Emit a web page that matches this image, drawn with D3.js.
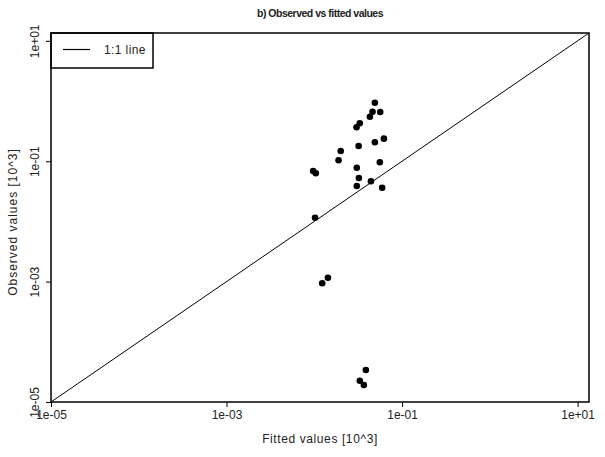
<!DOCTYPE html>
<html><head><meta charset="utf-8">
<script src="https://cdn.jsdelivr.net/npm/d3@7"></script>
<style>body{margin:0;background:#fff}svg{display:block}text{font-family:"Liberation Sans",Arial,sans-serif;fill:#222}</style>
</head><body>
<script>
const fitted = [0.0490,0.0461,0.0564,0.0430,0.0330,0.0303,0.0320,0.0621,0.0490,0.0200,0.0189,0.0558,0.0097,0.0104,0.0305,0.0322,0.0442,0.0305,0.0593,0.0102,0.0143,0.0123,0.0387,0.0330,0.0367];
const observed = [0.937,0.664,0.656,0.548,0.427,0.366,0.179,0.237,0.206,0.148,0.1035,0.096,0.0687,0.0630,0.078,0.0526,0.0464,0.0387,0.0363,0.0115,0.00116,0.00094,3.40e-5,2.26e-5,1.91e-5];
const tickValues = [1e-5,1e-3,1e-1,1e1];
const tickLabels = ["1e-05","1e-03","1e-01","1e+01"];
const title = "b) Observed vs fitted values";
const xLabel = "Fitted values [10^3]";
const yLabel = "Observed values [10^3]";
const legendLabel = "1:1 line";

const W=605,H=457, L=51,R=589,T=33,B=402;
const dom=[1e-5, Math.pow(10,1.13)];
const x=d3.scaleLog().domain(dom).range([L,R]);
const y=d3.scaleLog().domain(dom).range([B,T]);
const svg=d3.select("body").append("svg").attr("width",W).attr("height",H);

// 1:1 line
svg.append("line").attr("x1",x(dom[0])).attr("y1",y(dom[0])).attr("x2",x(dom[1])).attr("y2",y(dom[1]))
  .attr("stroke","#000").attr("stroke-width",1);

// points
svg.append("g").selectAll("circle").data(fitted.map((f,i)=>[f,observed[i]])).join("circle")
  .attr("cx",d=>x(d[0])).attr("cy",d=>y(d[1])).attr("r",3.3).attr("fill","#000");

// axes
const fmt=d=>tickLabels[tickValues.indexOf(d)];
const xa=svg.append("g").attr("transform",`translate(0,${B})`)
  .call(d3.axisBottom(x).tickValues(tickValues).tickFormat(fmt).tickSize(5).tickPadding(3));
xa.select(".domain").remove();
xa.selectAll("line").attr("stroke","#000");
xa.selectAll("text").attr("font-size",12).style("fill","#222");
const ya=svg.append("g").attr("transform",`translate(${L},0)`)
  .call(d3.axisLeft(y).tickValues(tickValues).tickFormat(fmt).tickSize(5));
ya.select(".domain").remove();
ya.selectAll("line").attr("stroke","#000");
ya.selectAll("text").attr("font-size",12).style("fill","#222")
  .attr("x",0).attr("dy",0).attr("text-anchor","middle")
  .attr("transform","translate(-12,0) rotate(-90)");

// box
svg.append("rect").attr("x",L).attr("y",T).attr("width",R-L).attr("height",B-T)
  .attr("fill","none").attr("stroke","#000").attr("stroke-width",1.5);

// legend
svg.append("rect").attr("x",L).attr("y",T).attr("width",102).attr("height",35)
  .attr("fill","none").attr("stroke","#000").attr("stroke-width",1.5);
svg.append("line").attr("x1",63).attr("x2",90).attr("y1",49.5).attr("y2",49.5).attr("stroke","#000").attr("stroke-width",1.2);
svg.append("text").attr("x",104).attr("y",54).attr("font-size",12).attr("letter-spacing",0.4).text(legendLabel);

// titles
svg.append("text").attr("x",320).attr("y",17).attr("text-anchor","middle").attr("font-size",10.5).attr("letter-spacing",-0.5).attr("font-weight","bold").text(title);
svg.append("text").attr("x",320).attr("y",443).attr("text-anchor","middle").attr("font-size",12).attr("letter-spacing",0.6).text(xLabel);
svg.append("text").attr("transform","translate(17,222) rotate(-90)").attr("text-anchor","middle").attr("font-size",12).attr("letter-spacing",1).text(yLabel);
</script>
</body></html>
